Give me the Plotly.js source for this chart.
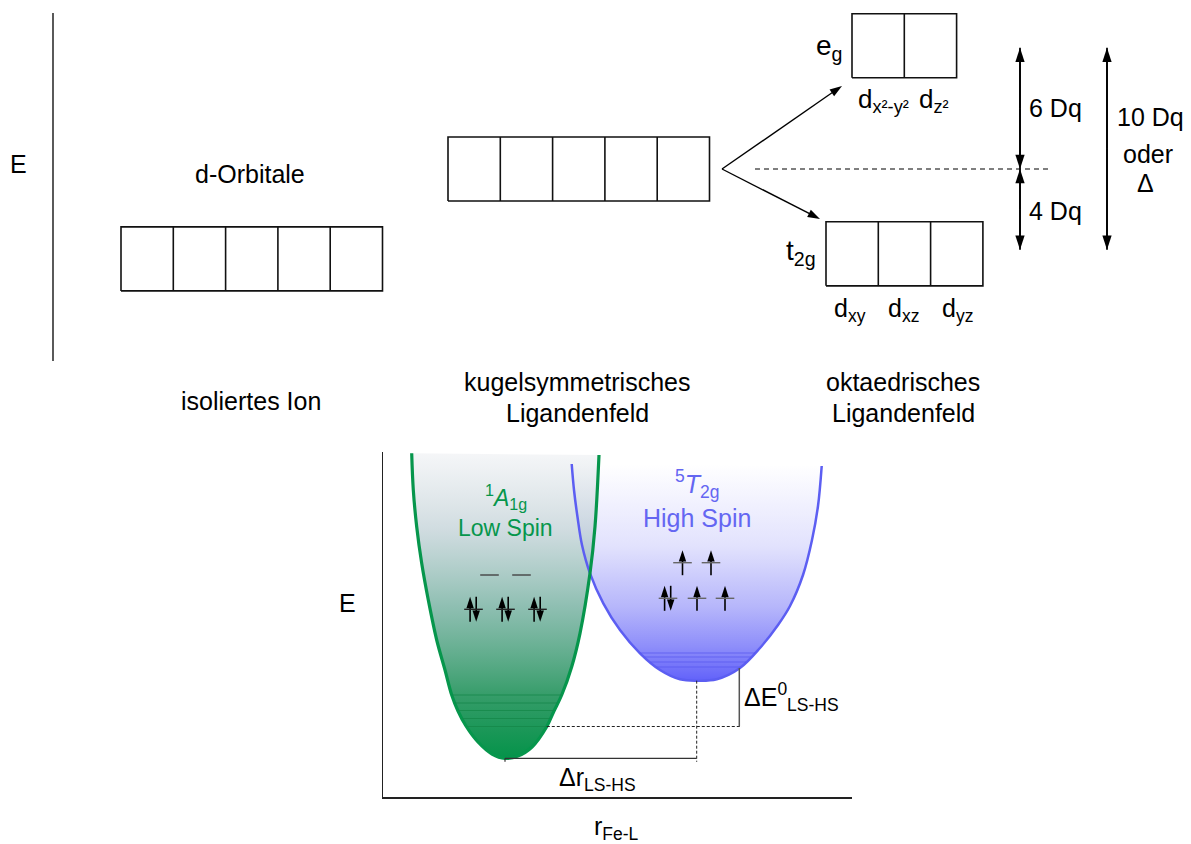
<!DOCTYPE html>
<html><head><meta charset="utf-8">
<script src="https://cdn.plot.ly/plotly-3.0.1.min.js"></script>
<style>html,body{margin:0;padding:0;background:#fff;}#chart{width:1191px;height:844px;}</style>
</head><body><div id="chart"></div>
<script>
// ================= DATA =================
// Top: crystal-field splitting (energies in Dq)
const groupKeys   = ['isolated', 'spherical', 'eg', 't2g'];
const boxCounts   = [5, 5, 2, 3];
const levelDq     = [-4.45, 0, 6.1, -4.2];     // box centre energies
const egSplitDq   = 6;                          // +6 Dq
const t2gSplitDq  = -4;                         // -4 Dq
const egOrbitals  = ['d<sub>x²-y²</sub>', 'd<sub>z²</sub>'];
const t2gOrbitals = ['d<sub>xy</sub>', 'd<sub>xz</sub>', 'd<sub>yz</sub>'];
const stageLabels = [['isoliertes Ion'], ['kugelsymmetrisches', 'Ligandenfeld'], ['oktaedrisches', 'Ligandenfeld']];

// Bottom: potential wells E(r) (arbitrary units)
const lsR = [0.287,0.303,0.337,0.387,0.453,0.537,0.62,0.687,0.75,0.83,0.95,1.09,1.22,1.35,1.49,1.637,1.71,1.787,1.887,1.97,2.07,2.12,2.16];
const lsE = [3.437,3.07,2.703,2.337,1.97,1.57,1.27,1.02,0.86,0.71,0.55,0.43,0.387,0.41,0.5,0.703,0.86,1.02,1.303,1.637,2.237,2.703,3.42];
const hsR = [1.887,1.91,1.945,1.99,2.07,2.203,2.37,2.57,2.77,2.97,3.137,3.337,3.57,3.77,3.95,4.07,4.2,4.29,4.35,4.387];
const hsE = [3.33,3.07,2.8,2.52,2.237,1.937,1.67,1.437,1.27,1.177,1.163,1.177,1.29,1.49,1.72,1.91,2.22,2.57,2.91,3.31];
const lsVibLevels = [1.02, 0.94, 0.865, 0.785, 0.705];
const hsVibLevels = [1.44, 1.40, 1.35, 1.30];
const lsMin = {r: 1.22, E: 0.387};
const hsMin = {r: 3.137, E: 1.163};

// Electron configurations (orbital centres r, level E, electrons per orbital)
const lsEg  = {E: 2.22,  r: [1.065, 1.385],        n: [0, 0]};
const lsT2g = {E: 1.877, r: [0.905, 1.225, 1.545], n: [2, 2, 2]};
const hsEg  = {E: 2.343, r: [2.995, 3.28],         n: [1, 1]};
const hsT2g = {E: 1.987, r: [2.85, 3.14, 3.42],    n: [2, 1, 1]};

// ================= LAYOUT CONSTANTS =================
const W = 1191, H = 844;
const pxPerDq = 20.2, baryPx = 169;
const boxLeftPx = [121, 448, 852, 826];
const cellW = 52.3, boxHDq = 3.17;
const FONT = 'Liberation Sans, Arial, Helvetica, sans-serif';
const GREEN = '#06964c', BLUE = '#5c5ef2';
const axBox = {x0: 383, x1: 852, y0: 452, y1: 797}; // bottom graph frame in px

const data = [];
const shapes = [];
const ann = [];

function label(text, x, y, size, extra) {
  ann.push(Object.assign({xref: 'x', yref: 'y', x: x, y: y, text: text, showarrow: false,
    xanchor: 'center', yanchor: 'middle', font: {family: FONT, size: size, color: '#000'}}, extra || {}));
}
function arrow(xa, ya, x0, y0, x1, y1, o) {
  o = o || {};
  const c = o.color || '#000';
  data.push({type: 'scatter', mode: 'lines+markers', x: [x0, x1], y: [y0, y1],
    xaxis: xa, yaxis: ya, line: {color: c, width: o.width || 1.3},
    marker: {symbol: 'arrow', size: o.size || 10, angleref: 'previous', color: c, line: {width: 0}},
    hoverinfo: 'skip'});
}
function crossings(rs, es, level) {
  const out = [];
  for (let i = 0; i < rs.length - 1; i++) {
    const a = es[i] - level, b = es[i + 1] - level;
    if (a === 0) out.push(rs[i]);
    if (a * b < 0) out.push(rs[i] + (rs[i + 1] - rs[i]) * a / (a - b));
  }
  return [Math.min.apply(null, out), Math.max.apply(null, out)];
}

// ================= TOP DIAGRAM =================
data.push({type: 'scatter', mode: 'lines', x: [53, 53], y: [13, 361], xaxis: 'x', yaxis: 'y',
  line: {color: '#000', width: 1.3}, hoverinfo: 'skip'});

groupKeys.forEach((g, gi) => {
  const L = boxLeftPx[gi], n = boxCounts[gi], E = levelDq[gi];
  const y0 = E - boxHDq / 2, y1 = E + boxHDq / 2, R = L + n * cellW;
  const xs = [L, R, R, L, L, null], ys = [y0, y0, y1, y1, y0, null];
  for (let i = 1; i < n; i++) { xs.push(L + i * cellW, L + i * cellW, null); ys.push(y0, y1, null); }
  data.push({type: 'scatter', mode: 'lines', x: xs, y: ys, xaxis: 'x', yaxis: 'y3',
    line: {color: '#111', width: 1.6}, hoverinfo: 'skip'});
});

// barycentre dashed line
data.push({type: 'scatter', mode: 'lines', x: [755, 1048], y: [0, 0], xaxis: 'x', yaxis: 'y3',
  line: {color: '#000', width: 1.2, dash: '5px,4px'}, hoverinfo: 'skip'});

// splitting arrows
const egI = 2, t2I = 3;
arrow('x', 'y3', 722, 0, boxLeftPx[egI] - 10, levelDq[egI] - boxHDq / 2 - 0.4, {size: 13, width: 1.4});
arrow('x', 'y3', 722, 0, boxLeftPx[t2I] - 6, levelDq[t2I] + boxHDq / 2 + 0.14, {size: 13, width: 1.4});
// Dq double arrows
function dbl(x, a, b) {
  data.push({type: 'scatter', mode: 'lines', x: [x, x], y: [a, b], xaxis: 'x', yaxis: 'y3',
    line: {color: '#000', width: 1.7}, hoverinfo: 'skip'});
  arrow('x', 'y3', x, (a + b) / 2, x, a, {size: 15, width: 1.7});
  arrow('x', 'y3', x, (a + b) / 2, x, b, {size: 15, width: 1.7});
}
dbl(1020, 0, egSplitDq);
dbl(1020, 0, t2gSplitDq);
dbl(1107, t2gSplitDq, egSplitDq);

// top labels
label('E', 18, 164, 25);
label('d-Orbitale', 250, 174, 25);
label('e<sub>g</sub>', 829, 47, 28);
label('t<sub>2g</sub>', 801, 252, 28);
[883, 934].forEach((x, i) => label(egOrbitals[i], x, 100, 26));
[850, 903, 957].forEach((x, i) => label(t2gOrbitals[i], x, 310, 25));
label('6 Dq', 1055, 108, 25);
label('4 Dq', 1055, 211, 25);
label('10 Dq', 1150, 117, 25);
label('oder', 1148, 154, 25);
label('Δ', 1145, 183, 25);
label(stageLabels[0][0], 251, 401, 25);
label(stageLabels[1][0], 577, 382, 25);
label(stageLabels[1][1], 577, 413, 25);
label(stageLabels[2][0], 903, 382, 25);
label(stageLabels[2][1], 903, 413, 25);

// ================= BOTTOM DIAGRAM =================
const lsTop = Math.max.apply(null, lsE), hsTop = Math.max.apply(null, hsE);
// HS fill
data.push({type: 'scatter', mode: 'lines', x: hsR, y: hsE, xaxis: 'x2', yaxis: 'y2', fill: 'toself',
  line: {width: 0, shape: 'spline', smoothing: 1}, hoverinfo: 'skip',
  fillgradient: {type: 'vertical', start: hsMin.E, stop: hsTop,
    colorscale: [[0, '#6262fa'], [0.157, '#8e8efa'], [0.34, '#b6b6fb'], [0.62, '#e2e2fd'], [1, '#ffffff']]}});
// LS fill
data.push({type: 'scatter', mode: 'lines', x: lsR, y: lsE, xaxis: 'x2', yaxis: 'y2', fill: 'toself',
  line: {width: 0, shape: 'spline', smoothing: 1}, hoverinfo: 'skip',
  fillgradient: {type: 'vertical', start: lsMin.E, stop: lsTop,
    colorscale: [[0, 'rgba(5,147,74,1)'], [0.2, 'rgba(52,156,104,1)'], [0.5, 'rgba(115,175,159,0.8)'],
                 [0.75, 'rgba(188,205,211,0.7)'], [1, 'rgba(238,240,243,0.6)']]}});
// outlines
data.push({type: 'scatter', mode: 'lines', x: hsR, y: hsE, xaxis: 'x2', yaxis: 'y2',
  line: {color: BLUE, width: 2.5, shape: 'spline', smoothing: 1}, hoverinfo: 'skip'});
data.push({type: 'scatter', mode: 'lines', x: lsR, y: lsE, xaxis: 'x2', yaxis: 'y2',
  line: {color: GREEN, width: 3.2, shape: 'spline', smoothing: 1}, hoverinfo: 'skip'});

// vibrational levels
lsVibLevels.forEach(e => { const c = crossings(lsR, lsE, e);
  shapes.push({type: 'line', xref: 'x2', yref: 'y2', x0: c[0], x1: c[1], y0: e, y1: e, line: {color: 'rgba(20,135,72,0.75)', width: 1.2}}); });
hsVibLevels.forEach(e => { const c = crossings(hsR, hsE, e);
  shapes.push({type: 'line', xref: 'x2', yref: 'y2', x0: c[0], x1: c[1], y0: e, y1: e, line: {color: 'rgba(85,85,240,0.7)', width: 1.2}}); });

// ΔE / Δr construction lines
const lsZPE = lsVibLevels[lsVibLevels.length - 1];
const hsZPE = hsVibLevels[hsVibLevels.length - 1];
const dEx = 3.563;
shapes.push({type: 'line', xref: 'x2', yref: 'y2', x0: crossings(lsR, lsE, lsZPE)[1], x1: dEx + 0.025, y0: lsZPE, y1: lsZPE,
  line: {color: '#222', width: 1, dash: '3px,2px'}});
shapes.push({type: 'line', xref: 'x2', yref: 'y2', x0: hsMin.r, x1: hsMin.r, y0: hsMin.E, y1: lsMin.E - 0.035,
  line: {color: '#222', width: 1, dash: '3px,2px'}});
shapes.push({type: 'line', xref: 'x2', yref: 'y2', x0: lsMin.r, x1: hsMin.r, y0: lsMin.E, y1: lsMin.E, line: {color: '#333', width: 1.2}});
shapes.push({type: 'line', xref: 'x2', yref: 'y2', x0: lsMin.r, x1: lsMin.r, y0: lsMin.E, y1: lsMin.E - 0.035, line: {color: '#333', width: 1.2}});
shapes.push({type: 'line', xref: 'x2', yref: 'y2', x0: dEx, x1: dEx, y0: hsZPE - 0.01, y1: lsZPE, line: {color: '#555', width: 1.5}});

// electron configurations
function config(level, lineColor) {
  level.r.forEach((r, i) => {
    shapes.push({type: 'line', xref: 'x2', yref: 'y2', x0: r - 0.093, x1: r + 0.093, y0: level.E, y1: level.E,
      line: {color: lineColor, width: 1.4}});
    const n = level.n[i];
    const o = {size: 12, width: 1.6};
    if (n === 1) arrow('x2', 'y2', r, level.E - 0.125, r, level.E + 0.125, o);
    if (n === 2) {
      arrow('x2', 'y2', r - 0.034, level.E - 0.125, r - 0.034, level.E + 0.125, o);
      arrow('x2', 'y2', r + 0.027, level.E + 0.125, r + 0.027, level.E - 0.125, o);
    }
  });
}
config(lsEg, '#444'); config(lsT2g, '#222'); config(hsEg, '#666'); config(hsT2g, '#666');

// bottom labels
label('<sup>1</sup><i>A</i><sub>1g</sub>', 506, 497, 23, {font: {family: FONT, size: 23, color: GREEN}});
label('Low Spin', 505, 528, 23, {font: {family: FONT, size: 23, color: GREEN}});
label('<sup>5</sup><i>T</i><sub>2g</sub>', 697, 484, 25, {font: {family: FONT, size: 25, color: '#6466f2'}});
label('High Spin', 697, 518, 25, {font: {family: FONT, size: 25, color: '#6466f2'}});
label('E', 347, 603, 25);
label('ΔE<sup>0</sup><sub>LS-HS</sub>', 742, 697, 25, {xanchor: 'left'});
label('Δr<sub>LS-HS</sub>', 597, 779, 25);
label('r<sub>Fe-L</sub>', 616, 828, 25);

const hidden = {visible: false, showgrid: false, zeroline: false, fixedrange: true};
const layout = {
  width: W, height: H, margin: {l: 0, r: 0, t: 0, b: 0, pad: 0},
  paper_bgcolor: '#fff', plot_bgcolor: 'rgba(0,0,0,0)', showlegend: false,
  font: {family: FONT},
  xaxis: Object.assign({range: [0, W], domain: [0, 1]}, hidden),
  yaxis: Object.assign({range: [H, 0], domain: [0, 1]}, hidden),
  yaxis3: Object.assign({range: [(baryPx - H) / pxPerDq, baryPx / pxPerDq], overlaying: 'y', anchor: 'x'}, hidden),
  xaxis2: {domain: [axBox.x0 / W, axBox.x1 / W], anchor: 'y2', range: [0, (axBox.x1 - axBox.x0) / 100],
    showline: true, linecolor: '#222', linewidth: 1.5, showgrid: false, zeroline: false, showticklabels: false, ticks: '', fixedrange: true},
  yaxis2: {domain: [(H - axBox.y1) / H, (H - axBox.y0) / H], anchor: 'x2', range: [0, (axBox.y1 - axBox.y0) / 100],
    showline: true, linecolor: '#222', linewidth: 1.5, showgrid: false, zeroline: false, showticklabels: false, ticks: '', fixedrange: true},
  shapes: shapes, annotations: ann
};
Plotly.newPlot('chart', data, layout, {displayModeBar: false, staticPlot: true});
</script></body></html>
